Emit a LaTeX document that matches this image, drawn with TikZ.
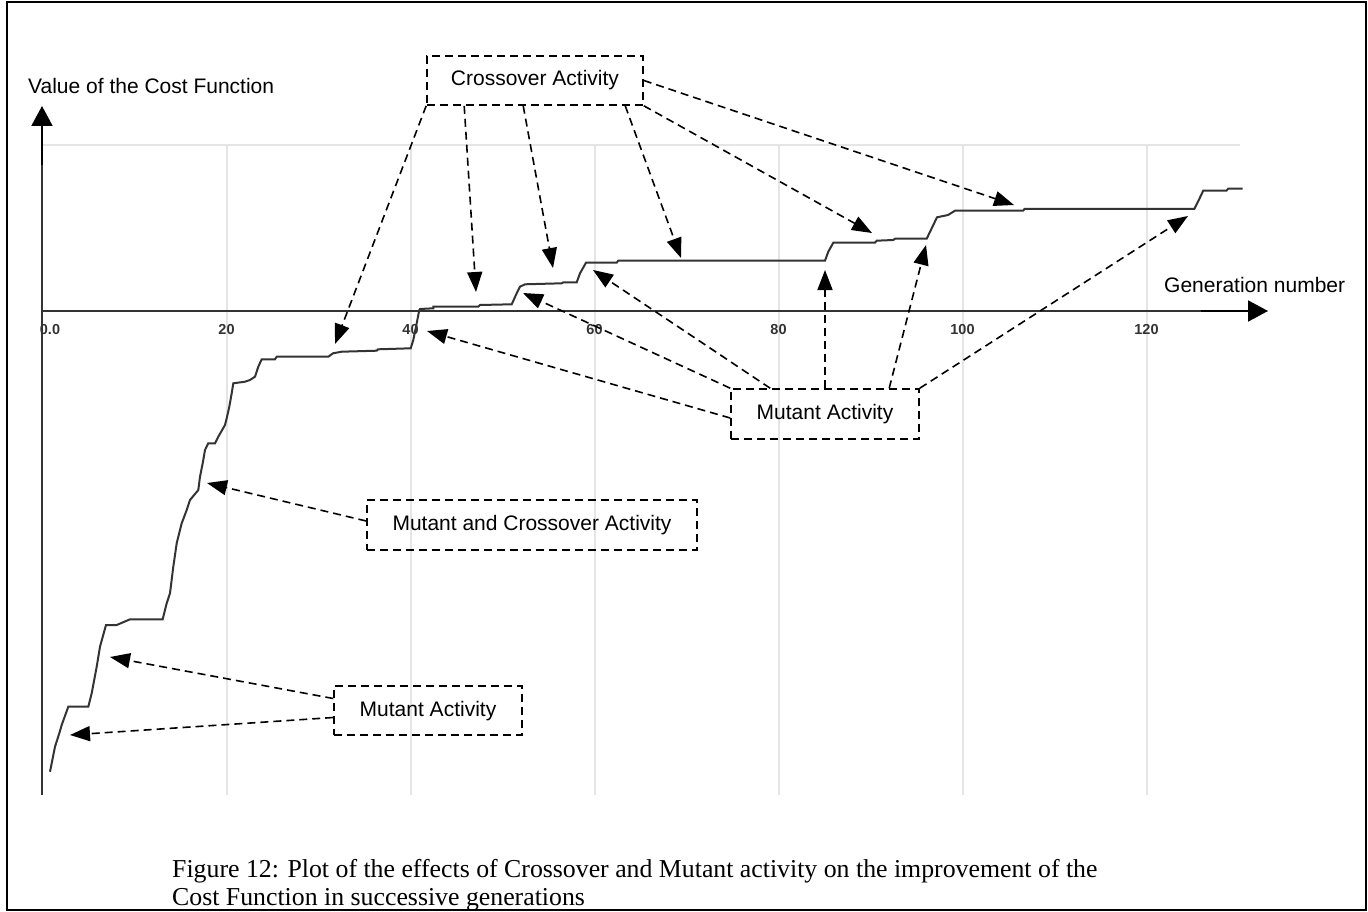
\documentclass[tikz,border=0pt]{standalone}
\usepackage{fontspec}
\setmainfont{Liberation Sans}
\newfontfamily\capfont{Liberation Serif}
\usetikzlibrary{arrows.meta}
\begin{document}
\begin{tikzpicture}[x=1pt,y=-1pt,
  lbl/.style={font=\fontsize{21}{25}\selectfont, inner sep=0pt},
  ticklbl/.style={font=\bfseries\fontsize{14.5}{16}\selectfont, text=black!80, inner sep=0pt},
  callout/.style={draw, line width=1.6pt, dash pattern=on 8pt off 5pt, inner sep=0pt,
    font=\fontsize{21}{25}\selectfont, text height=15pt, text depth=4pt},
  pointer/.style={draw, line width=1.6pt, dash pattern=on 8pt off 5pt,
    -{Triangle[length=20pt,width=15pt]}},
  gridln/.style={draw=black!10, line width=2pt},
  axisln/.style={draw=black!80, line width=2pt},
  axisarrow/.style={draw=black, line width=2pt, -{Triangle[length=20pt,width=21pt]}},
  costcurve/.style={draw=black!80, line width=2pt, line join=miter}
]
\useasboundingbox (0,0) rectangle (1368,912);
% outer frame
\draw[line width=2pt] (7,2) rectangle (1366,910);

% grid
\draw[gridln] (42,145) -- (1240,145);
\foreach \gx in {226.5,410.5,594.5,778.5,962.5,1146.5}
  \draw[gridln] (\gx,145) -- (\gx,795);

% tick labels
\node[ticklbl] (t0) at (50,330) {0.0};
\node[ticklbl] (t20) at (226.5,330) {20};
\node[ticklbl] (t40) at (410.5,330) {40};
\node[ticklbl] (t60) at (594.5,330) {60};
\node[ticklbl] (t80) at (778.5,330) {80};
\node[ticklbl] (t100) at (962.5,330) {100};
\node[ticklbl] (t120) at (1146.5,330) {120};

% axes
\coordinate (origin) at (42,311);
\coordinate (ybot) at (42,795);
\coordinate (ymid) at (42,165);
\coordinate (ytip) at (42,106);
\coordinate (xmid) at (1201,311);
\coordinate (xtip) at (1268,311);
\draw[axisln] (ybot) -- (ymid);
\draw[axisarrow] (ymid) -- (ytip);
\draw[axisln] (origin) -- (1240,311);
\draw[axisarrow] (xmid) -- (xtip);

\node[lbl, anchor=west] (ylabel) at (28,86) {Value of the Cost Function};
\node[lbl, anchor=west] (xlabel) at (1164,285) {Generation number};

% cost function over the generations
\draw[costcurve] plot coordinates {
 (50,771.7) (55,746.7) (59.3,733.3) (61.7,725) (68.3,706.7) (88.3,706.7)
 (91.7,693.3) (96.7,666.7) (100,646.7) (106,625) (116.7,625) (130,619.3)
 (162.7,619.3) (166.7,603.3) (170,593.3) (173.3,566.7) (176.7,543.3)
 (181.7,523.3) (186.7,510) (190,500) (198.3,490) (200,476.7) (202.7,463.3)
 (205,450) (208.3,443.3) (215,443.3) (218.3,436.7) (225,425) (226.7,418.3)
 (229.3,406.7) (231.7,393.3) (233.3,383.3) (245,381.7) (250,380) (255,376.7)
 (258.3,366.7) (261.7,359.3) (275,359.3) (276.7,356.7) (328.3,356.7)
 (333,353.3) (341.7,351.7) (376.7,350.7) (378,349.3) (410.7,348.3)
 (413.3,340) (416,326.7) (419.3,310) (420,309) (433.3,308.3) (433.3,306.7)
 (478.3,306.7) (480,305) (511.7,304.3) (516.7,293.3) (520,286.7) (525,284.3)
 (561.7,283.3) (563.3,282.3) (576.7,282.3) (580,273.3) (586,262.7)
 (616.7,262.7) (618.3,260.7) (825,260.7) (828.3,251.7) (833.3,242.7)
 (875,242.7) (876.7,240.7) (893.3,240) (895,238.7) (926.7,238.7)
 (931.7,228.3) (937,217.3) (948,215) (955,210.7) (1023,210.7) (1024.6,209)
 (1194.3,209) (1198,201.7) (1203.2,190.7) (1226.4,190.7) (1228.2,188.7)
 (1242.5,188.7)};

% callout boxes
\node[callout, minimum width=216pt, minimum height=49pt] (cross) at (535,80.5) {Crossover Activity};
\node[callout, minimum width=188pt, minimum height=50pt] (mutR) at (825,414) {Mutant Activity};
\node[callout, minimum width=330pt, minimum height=50pt] (mutcross) at (532,525) {Mutant and Crossover Activity};
\node[callout, minimum width=188pt, minimum height=49pt] (mutL) at (428,710.5) {Mutant Activity};

% pointer targets on the curve
\coordinate (ca1) at (335,344);
\coordinate (ca2) at (476,292);
\coordinate (ca3) at (553,268);
\coordinate (ca4) at (681,258);
\coordinate (ca5) at (872,233);
\coordinate (ca6) at (1014,205);
\coordinate (mr1) at (427,331);
\coordinate (mr2) at (523,293);
\coordinate (mr3) at (593,270);
\coordinate (mr4) at (825,270);
\coordinate (mr5) at (926,245);
\coordinate (mr6) at (1188,216);
\coordinate (mc1) at (207,483);
\coordinate (ml1) at (110,657);
\coordinate (ml2) at (70,735);

% crossover pointers
\draw[pointer] (cross.south west) -- (ca1);
\draw[pointer] ([xshift=38pt]cross.south west) -- (ca2);
\draw[pointer] ([xshift=97pt]cross.south west) -- (ca3);
\draw[pointer] ([xshift=199pt]cross.south west) -- (ca4);
\draw[pointer] (cross.south east) -- (ca5);
\draw[pointer] (cross.east) -- (ca6);

% mutant pointers (right box)
\draw[pointer] ([yshift=-4pt]mutR.west) -- (mr1);
\draw[pointer] (mutR.north west) -- (mr2);
\draw[pointer] ([xshift=40pt]mutR.north west) -- (mr3);
\draw[pointer] (mutR.north) -- (mr4);
\draw[pointer] ([xshift=159pt]mutR.north west) -- (mr5);
\draw[pointer] (mutR.north east) -- (mr6);

% mutant and crossover pointer
\draw[pointer] ([yshift=4pt]mutcross.west) -- (mc1);

% mutant pointers (left box)
\draw[pointer] ([yshift=12pt]mutL.west) -- (ml1);
\draw[pointer] ([yshift=-7pt]mutL.west) -- (ml2);

% caption
\node[anchor=north west, inner sep=0pt, align=left,
  font=\capfont\fontsize{25.8}{28}\selectfont] (caption) at (172,859)
  {Figure 12: Plot of the effects of Crossover and Mutant activity on the improvement of the\\
   Cost Function in successive generations};
\end{tikzpicture}
\end{document}
